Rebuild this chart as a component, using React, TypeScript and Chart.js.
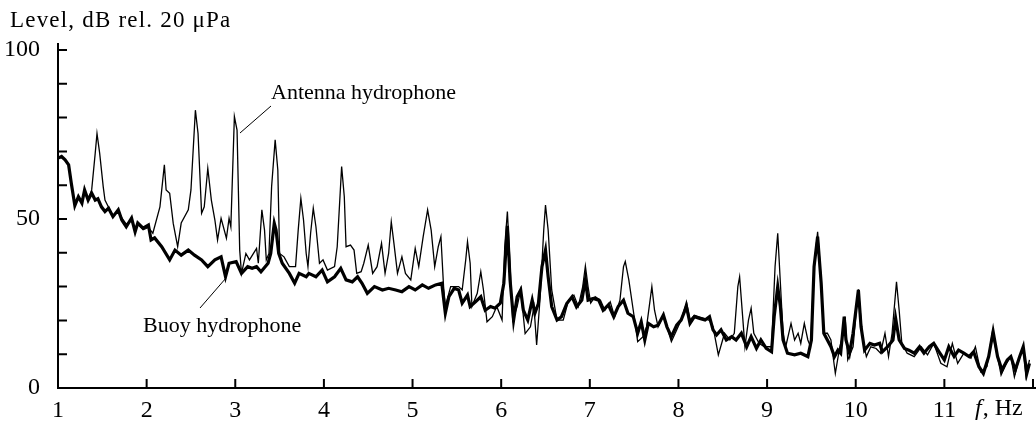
import React, { useEffect, useRef } from "react";
import { Chart, registerables } from "chart.js";

Chart.register(...registerables);

const yAxisTitle = "Level, dB rel. 20 μPa";
const xAxisUnit = ", Hz";
const xAxisSymbol = "f";
const antennaLabel = "Antenna hydrophone";
const buoyLabel = "Buoy hydrophone";

const xLabelledTicks = [1, 2, 3, 4, 5, 6, 7, 8, 9, 10, 11];
const yLabelledTicks = [0, 50, 100];

const buoyFreq = [
  1.0, 1.04, 1.08, 1.12, 1.15, 1.19, 1.23, 1.27, 1.3, 1.34, 1.38, 1.42, 1.45, 1.49, 1.53, 1.57, 1.62, 1.68,
  1.72, 1.77, 1.83, 1.87, 1.9, 1.96, 2.02, 2.05, 2.09, 2.17, 2.26, 2.32, 2.39, 2.47, 2.54, 2.62, 2.69, 2.77,
  2.84, 2.89, 2.93, 3.01, 3.07, 3.14, 3.19, 3.24, 3.29, 3.37, 3.4, 3.44, 3.46, 3.49, 3.53, 3.61, 3.67, 3.72,
  3.8, 3.83, 3.91, 3.98, 4.04, 4.12, 4.19, 4.25, 4.32, 4.38, 4.43, 4.49, 4.57, 4.66, 4.73, 4.81, 4.88, 4.96,
  5.03, 5.11, 5.18, 5.26, 5.33, 5.37, 5.41, 5.47, 5.52, 5.56, 5.62, 5.65, 5.71, 5.77, 5.82, 5.88, 5.93, 5.99,
  6.03, 6.07, 6.1, 6.14, 6.18, 6.22, 6.25, 6.3, 6.35, 6.38, 6.42, 6.46, 6.5, 6.53, 6.57, 6.63, 6.68, 6.74,
  6.8, 6.85, 6.91, 6.95, 6.98, 7.04, 7.1, 7.15, 7.21, 7.27, 7.32, 7.38, 7.43, 7.49, 7.54, 7.58, 7.62, 7.66,
  7.72, 7.77, 7.83, 7.87, 7.92, 7.98, 8.03, 8.09, 8.13, 8.18, 8.24, 8.3, 8.35, 8.39, 8.43, 8.48, 8.54, 8.6,
  8.65, 8.71, 8.77, 8.82, 8.88, 8.93, 8.99, 9.05, 9.08, 9.12, 9.15, 9.18, 9.23, 9.31, 9.38, 9.46, 9.5, 9.53,
  9.57, 9.61, 9.64, 9.68, 9.72, 9.76, 9.8, 9.83, 9.87, 9.89, 9.93, 9.97, 10.03, 10.06, 10.1, 10.16, 10.21,
  10.27, 10.3, 10.36, 10.42, 10.45, 10.49, 10.55, 10.6, 10.66, 10.72, 10.77, 10.83, 10.88, 10.94, 11.0,
  11.05, 11.11, 11.16, 11.22, 11.28, 11.33, 11.39, 11.44, 11.5, 11.55, 11.6, 11.65, 11.71, 11.75, 11.8,
  11.85, 11.89, 11.93, 11.96,
];
const buoyLevel = [
  68, 68.5, 67.5, 66, 60.6, 54, 56.6, 54.7, 58.6, 55.6, 57.7, 55.6, 56, 53.6, 52.2, 53.2, 50.7, 52.7,
  49.7, 47.7, 50.3, 46.2, 48.8, 47.3, 48.2, 43.8, 44.4, 41.8, 37.9, 40.8, 39.3, 40.8, 39.3, 37.9, 35.9, 37.9,
  38.8, 32.9, 36.9, 37.4, 33.9, 35.9, 35.4, 35.9, 34.4, 36.9, 39.8, 48.7, 46.7, 39.8, 36.9, 33.9, 31, 33.9,
  32.9, 33.9, 32.9, 34.9, 31.4, 32.9, 35.4, 32, 31.4, 32.9, 31, 28, 30, 29, 29.5, 29, 28.5, 30,
  29, 30.5, 29.5, 30.5, 31, 22.1, 27, 29.5, 29, 25.1, 27.5, 24.1, 25.5, 27, 23, 24.1, 23.6, 25.1,
  31, 48, 32, 20.1, 27, 29, 23, 20.1, 26, 22.1, 25, 35.9, 40.8, 32.9, 24.1, 20.1, 21.1, 25,
  27, 24, 26, 32, 26, 26.5, 26, 23, 24.6, 21.1, 24.1, 26, 22.1, 21.1, 16.2, 19.6, 14.2, 19.1,
  18.1, 18.6, 21.6, 18.1, 15.2, 18.6, 20.1, 24.1, 19.1, 21.1, 20.6, 20.1, 21.1, 17.2, 15.7, 17.2, 14.2, 15.2,
  14.2, 16.2, 12.2, 15.2, 11.7, 14.2, 11.7, 10.7, 21.1, 30, 24, 14.2, 10.3, 9.8, 10.3, 9.3, 14.2, 35.9,
  44.8, 31, 16.2, 14.2, 12.2, 9.3, 11.2, 10.3, 21.1, 14.2, 10.3, 16.2, 29, 18.1, 11.2, 13.2, 12.7,
  13.2, 10.7, 12.2, 14.2, 20.6, 14.2, 11.7, 11.2, 10.3, 12.2, 10.3, 12.2, 13.2, 10.7, 8.3,
  12.2, 9.3, 11.2, 10.3, 9.3, 10.7, 6.3, 4.3, 9.3, 16.7, 9.3, 5.3, 8.3, 9.3, 5.3,
  9.3, 12.2, 4.3, 7.3,
];

const antennaFreq = [
  1.0, 1.04, 1.08, 1.12, 1.15, 1.19, 1.23, 1.27, 1.3, 1.34, 1.38, 1.42, 1.44, 1.47, 1.51, 1.53, 1.57, 1.62,
  1.68, 1.72, 1.77, 1.83, 1.87, 1.9, 1.96, 2.02, 2.07, 2.15, 2.2, 2.22, 2.26, 2.3, 2.35, 2.39, 2.47, 2.5,
  2.55, 2.58, 2.62, 2.65, 2.69, 2.73, 2.77, 2.8, 2.84, 2.9, 2.93, 2.95, 2.99, 3.02, 3.05, 3.07, 3.12, 3.16,
  3.24, 3.26, 3.3, 3.33, 3.35, 3.38, 3.41, 3.45, 3.48, 3.5, 3.55, 3.61, 3.68, 3.71, 3.74, 3.77, 3.8, 3.82,
  3.85, 3.88, 3.91, 3.95, 3.99, 4.04, 4.12, 4.15, 4.2, 4.23, 4.25, 4.3, 4.34, 4.37, 4.42, 4.45, 4.5, 4.55,
  4.6, 4.65, 4.69, 4.73, 4.76, 4.79, 4.83, 4.88, 4.92, 4.98, 5.03, 5.07, 5.12, 5.17, 5.21, 5.25, 5.29, 5.32,
  5.35, 5.37, 5.43, 5.52, 5.56, 5.6, 5.62, 5.65, 5.67, 5.73, 5.77, 5.8, 5.84, 5.9, 5.95, 6.01, 6.04, 6.07,
  6.09, 6.13, 6.18, 6.22, 6.27, 6.33, 6.37, 6.4, 6.44, 6.48, 6.5, 6.53, 6.57, 6.63, 6.7, 6.76, 6.82, 6.87,
  6.92, 6.95, 6.98, 7.01, 7.06, 7.12, 7.17, 7.23, 7.28, 7.34, 7.38, 7.4, 7.44, 7.49, 7.54, 7.6, 7.64, 7.68,
  7.7, 7.73, 7.77, 7.83, 7.88, 7.92, 7.98, 8.03, 8.09, 8.13, 8.18, 8.24, 8.3, 8.35, 8.39, 8.45, 8.52, 8.58,
  8.63, 8.67, 8.69, 8.71, 8.75, 8.79, 8.82, 8.85, 8.91, 8.97, 9.05, 9.09, 9.12, 9.15, 9.18, 9.21, 9.27, 9.31,
  9.35, 9.38, 9.42, 9.46, 9.49, 9.53, 9.57, 9.61, 9.64, 9.68, 9.72, 9.77, 9.82, 9.85, 9.88, 9.91, 9.97,
  10.01, 10.03, 10.05, 10.08, 10.12, 10.17, 10.23, 10.28, 10.33, 10.37, 10.41, 10.46, 10.49, 10.52, 10.58,
  10.66, 10.74, 10.81, 10.88, 10.96, 11.03, 11.09, 11.15, 11.22, 11.3, 11.35, 11.41, 11.48, 11.54, 11.6,
  11.64, 11.7, 11.75, 11.79, 11.84, 11.89, 11.92, 11.96,
];
const antennaLevel = [
  68, 68.5, 67.5, 66, 60.6, 54, 56.6, 54.7, 58.6, 55.6, 58.6, 69.5, 75.3, 69.5, 59.6, 55.6, 53.5, 51,
  52.2, 50.3, 48.5, 49.6, 47, 48.4, 46.8, 47.5, 45.8, 53.6, 66, 58.6, 57.6, 48.7, 41.8, 48.8, 52.7, 58.6,
  82.2, 75.3, 51.7, 53.6, 65, 55.6, 49.7, 43.8, 50.2, 44.3, 50.2, 47.7, 80.3, 76.3, 40.8, 33.9, 39.8, 37.9,
  41.3, 36.9, 52.7, 46.7, 37.9, 39.8, 59.6, 73.4, 64.5, 39.8, 38.8, 35.9, 35.9, 46.7, 56.1, 49.7, 39.8, 35.9,
  45.8, 53.2, 47.7, 36.9, 37.9, 34.9, 35.9, 41.8, 65.5, 56.6, 41.8, 42.3, 40.8, 33.9, 34.4, 36.9, 42.3, 33.9,
  35.9, 42.8, 33.9, 39.8, 49.2, 42.8, 33.9, 38.8, 33.9, 32, 41.3, 35.9, 44.8, 52.7, 46.7, 35.9, 41.8, 44.8,
  30, 24.1, 30, 30, 29, 37.9, 43.3, 36.9, 24.1, 28, 34.4, 29, 19.6, 21.1, 24.1, 20.1, 41.8, 52.2,
  41.8, 20.1, 24.1, 29, 16.1, 18.1, 24.1, 12.7, 27, 46.7, 54.1, 46.7, 29, 20.1, 20.1, 26, 27.5, 24.1,
  30, 36.1, 30, 25.1, 27, 26, 23, 25.5, 21.1, 26, 35.9, 37.4, 32, 23, 13.7, 15.2, 18.1, 26,
  30, 23, 18.1, 21.6, 17.2, 13.7, 17.2, 20.1, 25.5, 20.1, 21.5, 21, 20.5, 20, 18.1, 9.8, 16.2, 14.2,
  16.2, 30, 32.9, 26, 12.2, 20.1, 23.6, 16.2, 13.2, 12.2, 12.2, 35.9, 45.8, 31, 16.2, 12.2, 19.1, 14.2,
  16.2, 13.2, 19.1, 14.2, 12.2, 35.9, 46.2, 32, 16.2, 16.2, 14.2, 4.3, 12.2, 15.2, 21.1, 8.3, 12.2,
  24.1, 29.2, 23, 14.2, 9.3, 12.2, 11.7, 10.3, 16.2, 9.3, 16.2, 31.4, 23, 13.2, 10.3,
  9.3, 12.2, 9.8, 13.2, 7.3, 6.3, 13.2, 7.3, 10.3, 8.8, 12.2, 4.8, 6.3, 16.2, 9.3,
  3.8, 7.3, 9.3, 3.3, 8.3, 12.2, 3.3, 8.3,
];

const SERIF = "'Liberation Serif', 'Times New Roman', 'DejaVu Serif', serif";

const decorPlugin = {
  id: "decor",
  afterDraw(chart: any) {
    const { ctx } = chart;
    const xs = chart.scales.x;
    const ys = chart.scales.y;
    const x0 = xs.getPixelForValue(1);
    const y0 = ys.getPixelForValue(0);
    const yTop = ys.getPixelForValue(100);
    ctx.save();
    ctx.strokeStyle = "#000";
    ctx.fillStyle = "#000";
    ctx.lineWidth = 2;
    ctx.lineCap = "butt";
    // axes
    ctx.beginPath();
    ctx.moveTo(x0, yTop - 7);
    ctx.lineTo(x0, y0 + 1);
    ctx.moveTo(x0 - 1, y0);
    ctx.lineTo(chart.width, y0);
    ctx.stroke();
    // y ticks
    ctx.beginPath();
    for (let v = 10; v <= 100; v += 10) {
      const y = ys.getPixelForValue(v);
      ctx.moveTo(x0, y);
      ctx.lineTo(x0 + 9, y);
    }
    // x ticks
    for (let v = 2; v <= 12; v += 1) {
      const x = xs.getPixelForValue(v);
      ctx.moveTo(x, y0);
      ctx.lineTo(x, y0 - 9);
    }
    ctx.stroke();

    // y-axis title
    ctx.font = `23px ${SERIF}`;
    ctx.textBaseline = "alphabetic";
    ctx.textAlign = "left";
    try {
      (ctx as any).letterSpacing = "1.2px";
    } catch (e) {}
    ctx.fillText(yAxisTitle, 10, 27);
    try {
      (ctx as any).letterSpacing = "0px";
    } catch (e) {}

    // x-axis unit
    ctx.font = `italic 24px ${SERIF}`;
    ctx.fillText(xAxisSymbol, 975, 415);
    const fw = ctx.measureText(xAxisSymbol).width;
    ctx.font = `24px ${SERIF}`;
    ctx.fillText(xAxisUnit, 975 + fw + 1, 415);

    // annotations
    ctx.font = `22px ${SERIF}`;
    ctx.fillText(antennaLabel, 271, 99);
    ctx.fillText(buoyLabel, 143, 332);
    ctx.lineWidth = 1;
    ctx.beginPath();
    ctx.moveTo(271, 106);
    ctx.lineTo(240, 133);
    ctx.moveTo(200, 308);
    ctx.lineTo(226, 278);
    ctx.stroke();
    ctx.restore();
  },
};

export default function App() {
  const ref = useRef<HTMLCanvasElement>(null);
  useEffect(() => {
    document.body.style.margin = "0";
    const canvas = ref.current;
    if (!canvas) return;
    const chart = new Chart(canvas, {
      type: "line",
      data: {
        datasets: [
          {
            label: buoyLabel,
            data: buoyFreq.map((x, i) => ({ x, y: buoyLevel[i] })),
            borderColor: "#000",
            borderWidth: 3.2,
            pointRadius: 0,
            tension: 0,
            fill: false,
          },
          {
            label: antennaLabel,
            data: antennaFreq.map((x, i) => ({ x, y: antennaLevel[i] })),
            borderColor: "#000",
            borderWidth: 1.3,
            pointRadius: 0,
            tension: 0,
            fill: false,
          },
        ],
      },
      options: {
        responsive: false,
        animation: false,
        events: [],
        layout: { padding: { top: 50, right: 3, left: 0, bottom: 0 } },
        plugins: { legend: { display: false }, tooltip: { enabled: false } },
        scales: {
          x: {
            type: "linear",
            min: 1,
            max: 12,
            grid: { display: false },
            border: { display: false },
            afterFit: (s: any) => {
              s.height = 34;
            },
            ticks: {
              stepSize: 1,
              autoSkip: false,
              maxRotation: 0,
              padding: 0,
              color: "#000",
              font: { family: SERIF, size: 24 },
              callback: (v: any) => (xLabelledTicks.includes(Number(v)) ? String(v) : ""),
            },
          },
          y: {
            type: "linear",
            min: 0,
            max: 100,
            grid: { display: false },
            border: { display: false },
            afterFit: (s: any) => {
              s.width = 58;
            },
            ticks: {
              stepSize: 10,
              autoSkip: false,
              padding: 10,
              color: "#000",
              font: { family: SERIF, size: 24 },
              callback: (v: any) => (yLabelledTicks.includes(Number(v)) ? String(v) : ""),
            },
          },
        },
      },
      plugins: [decorPlugin],
    });
    return () => chart.destroy();
  }, []);
  return <canvas ref={ref} width={1036} height={422} style={{ display: "block" }} />;
}
